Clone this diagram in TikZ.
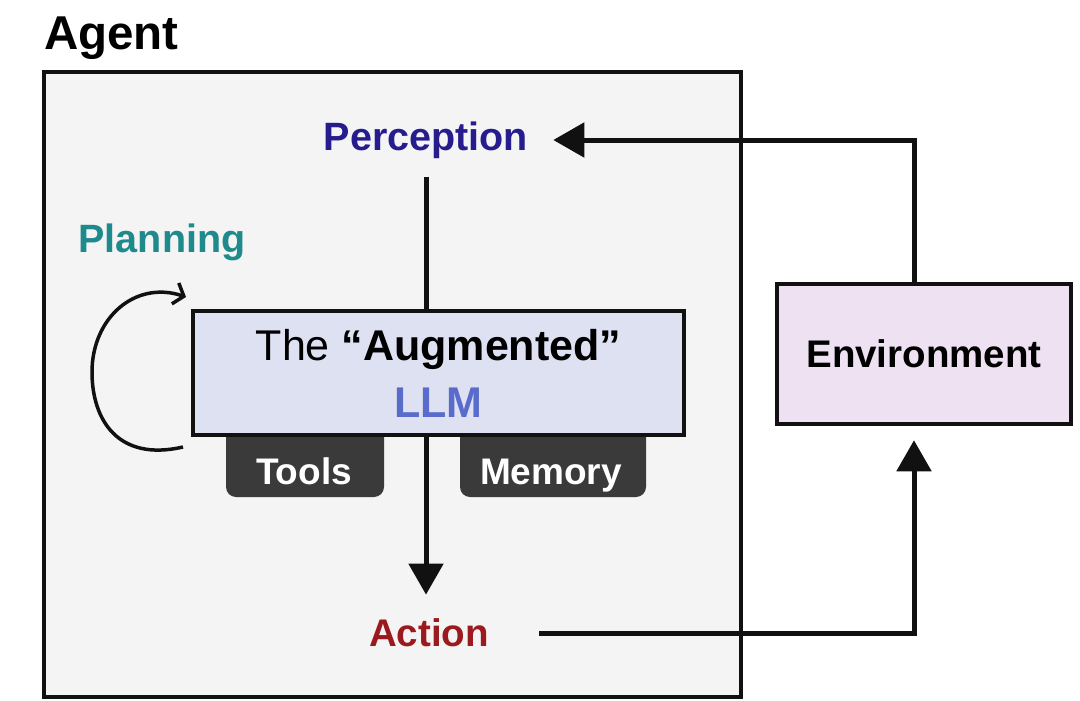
\documentclass[tikz,border=0pt]{standalone}
\usepackage{fontspec}
\setmainfont{Liberation Sans}
\usetikzlibrary{arrows.meta}
\definecolor{percol}{HTML}{261C8E}
\definecolor{plancol}{HTML}{1E8A8C}
\definecolor{llmcol}{HTML}{5A6CCB}
\definecolor{actcol}{HTML}{9A1A1E}
\definecolor{agentbg}{HTML}{F4F4F4}
\definecolor{llmbg}{HTML}{DEE1F1}
\definecolor{envbg}{HTML}{EEE2F2}
\definecolor{tabcol}{HTML}{3A3A3A}
\definecolor{ink}{HTML}{111111}
\tikzset{
  lbl/.style={inner sep=0pt, font=\bfseries\fontsize{39.5}{44}\selectfont},
  tabbox/.style={fill=tabcol, rounded corners=10pt, minimum height=72pt, inner sep=0pt},
  tabtxt/.style={text=white, inner sep=0pt, anchor=base, font=\bfseries\fontsize{37}{42}\selectfont},
  conn/.style={draw=ink, line width=5pt},
  tip/.style={-{Triangle[length=31pt,width=34pt]}},
}
\begin{document}
\begin{tikzpicture}[x=1pt,y=-1pt]
\useasboundingbox (0,0) rectangle (1080,701);
\fill[white] (0,0) rectangle (1080,701);
% agent frame
\draw[draw=ink, line width=3.5pt, fill=agentbg] (44,72) rectangle (741,697);
\node[lbl, anchor=base west, font=\bfseries\fontsize{47.5}{52}\selectfont] (agent) at (44,50) {Agent};
% labels
\node[lbl, text=percol] (perc) at (426,140) {Perception};
\node[lbl, text=plancol] (plan) at (162,242) {Planning};
\node[lbl, text=actcol, font=\bfseries\fontsize{38.5}{44}\selectfont] (act) at (429,633) {Action};
% tabs
\node[tabbox, minimum width=158pt] (tools) at (305,461) {};
\node[tabbox, minimum width=186pt] (mem) at (553,461) {};
\node[tabtxt] (toolst) at (304,484) {Tools};
\node[tabtxt] (memt) at (551,484) {Memory};
% LLM box
\node[draw=ink, line width=4.5pt, fill=llmbg, minimum width=491pt, minimum height=124pt, inner sep=0pt,
      align=center, font=\fontsize{43}{59}\selectfont] (llm) at (438.5,373)
  {The \textbf{“Augmented”}\\[-2pt] \textcolor{llmcol}{\textbf{LLM}}};
% environment
\node[draw=ink, line width=4.5pt, fill=envbg, minimum width=294pt, minimum height=140pt, inner sep=0pt,
      font=\bfseries\fontsize{38.5}{42}\selectfont] (env) at (924,354) {Environment};
% connectors
\draw[conn, shorten <=18pt] (perc.south) -- (perc.south |- llm.north);
\draw[conn, tip, shorten >=24pt] (perc.south |- llm.south) -- (perc.south |- act.north);
\draw[conn, tip, shorten >=25pt] ([xshift=-10pt]env.north) |- (perc.east);
\draw[conn, tip, shorten <=50pt, shorten >=14pt] (act.east) -| ([xshift=-10pt]env.south);
% planning loop
\coordinate (loopA) at (183,447);
\coordinate (loopB) at (186,297);
\draw[draw=ink, line width=3.5pt, -{Straight Barb[length=9pt,width=22pt]}]
  (loopA) .. controls (118,462) and (92,420) .. (92,372)
          .. controls (92,318) and (135,280) .. (loopB);
\end{tikzpicture}
\end{document}
